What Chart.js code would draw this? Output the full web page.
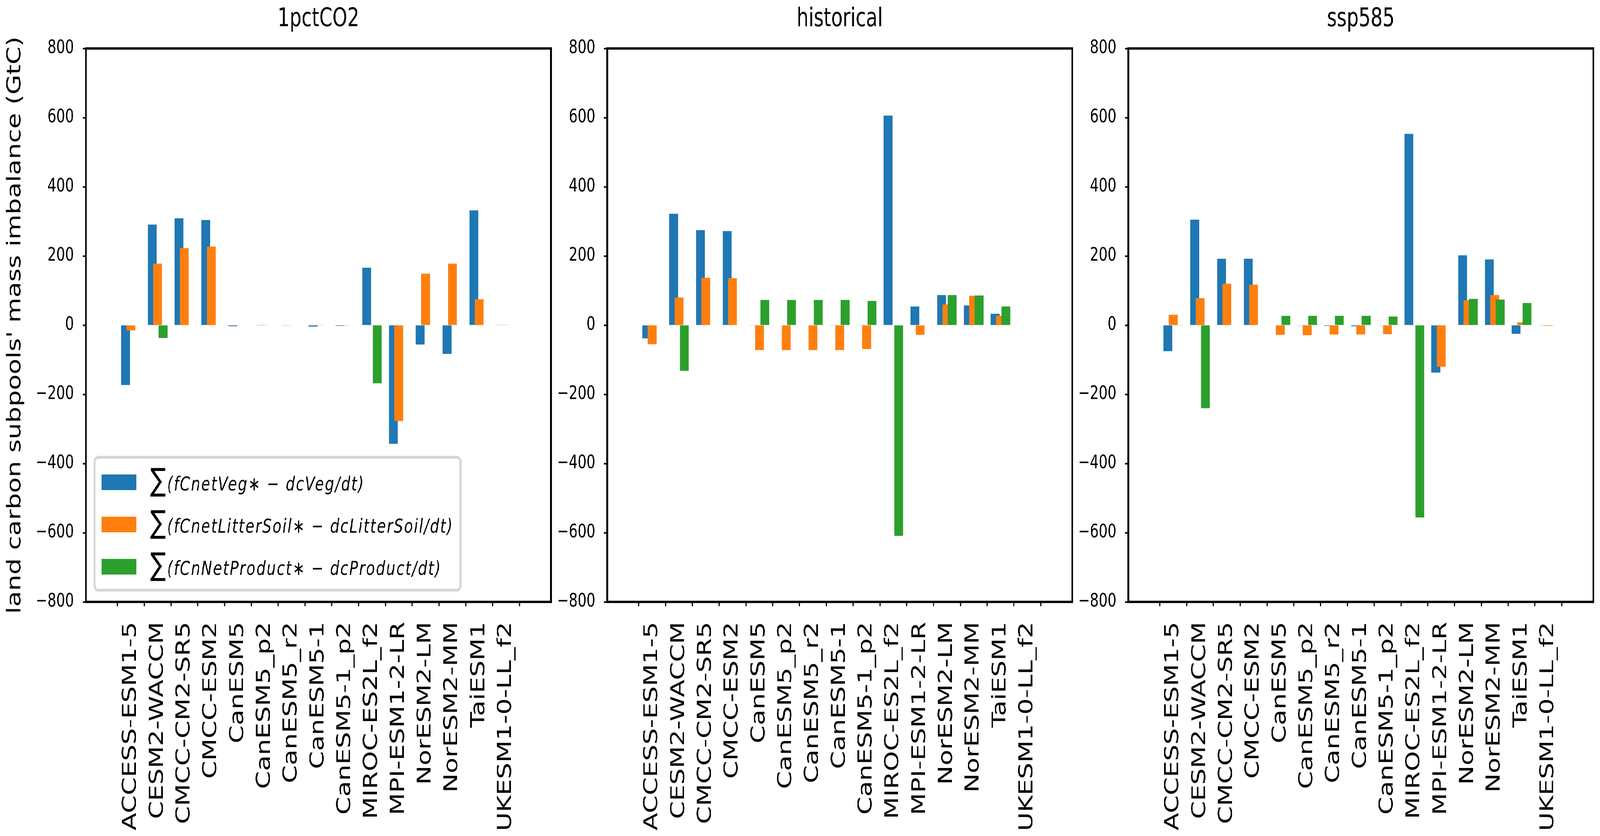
<!DOCTYPE html>
<html>
<head>
<meta charset="utf-8">
<script src="https://cdn.jsdelivr.net/npm/chart.js@4.4.1/dist/chart.umd.min.js"></script>
<style>
  html, body { margin: 0; padding: 0; background: #fff; overflow: hidden; }
  #view { position: relative; overflow: hidden; }
  #wrap { position: absolute; left: 0; top: 0; width: 5515px; height: 2139px; transform-origin: 0 0; }
  canvas { position: absolute; top: 0; }
</style>
</head>
<body>
<div id="view">
  <div id="wrap">
    <canvas id="painel1"></canvas>
    <canvas id="painel2"></canvas>
    <canvas id="painel3"></canvas>
  </div>
</div>
<script>
// Modelos no eixo x
const models = ['ACCESS-ESM1-5', 'CESM2-WACCM', 'CMCC-CM2-SR5', 'CMCC-ESM2', 'CanESM5', 'CanESM5_p2',
    'CanESM5_r2', 'CanESM5-1', 'CanESM5-1_p2', 'MIROC-ES2L_f2', 'MPI-ESM1-2-LR', 'NorESM2-LM',
    'NorESM2-MM', 'TaiESM1', 'UKESM1-0-LL_f2'];
const experiments = ['1pctCO2', 'historical', 'ssp585'];
const seriesLabels = ['∑(fCnetVeg∗ − dcVeg/dt)', '∑(fCnetLitterSoil∗ − dcLitterSoil/dt)', '∑(fCnNetProduct∗ − dcProduct/dt)'];
const yTicks = [-800, -600, -400, -200, 0, 200, 400, 600, 800];
const yTitle = "land carbon subpools' mass imbalance (GtC)";

// 1pctCO2 (GtC)
const vegPct = [-173, 291, 309, 304, -3, -1, -1, -4, -2, 166, -343, -56, -83, 332, 1];
const litterPct = [-15, 178, 223, 227, 0, 1, 0, 1, -1, -1, -277, 149, 178, 75, 1];
const productPct = [0, -37, 0, 0, 0, 0, 0, 0, 0, -168, 0, 0, 0, 0, 0];

// historical (GtC)
const vegHist = [-38, 322, 275, 272, -1, 0, 0, -1, 1, 606, 54, 87, 57, 33, 0];
const litterHist = [-55, 80, 137, 136, -72, -72, -72, -72, -69, 0, -28, 60, 85, 27, 0];
const productHist = [0, -132, 0, 0, 73, 73, 73, 73, 70, -609, 0, 87, 86, 54, 0];

// ssp585 (GtC)
const vegSsp = [-75, 305, 192, 192, 0, -1, -2, -3, -1, 553, -137, 202, 190, -25, -1];
const litterSsp = [30, 78, 120, 117, -28, -29, -27, -27, -26, -1, -120, 72, 87, 8, -2];
const productSsp = [-1, -240, 0, 0, 27, 27, 27, 27, 25, -556, 0, 76, 74, 64, 0];

const seriesColors = ['#1f77b4', '#ff7f0e', '#2ca02c'];
const barOffsets = [-0.2, 0, 0.2]; // deslocamento de cada serie dentro do grupo

// posicao de cada painel na figura (pixels da figura 5515x2139)
const panelLayout = [
    { left: 0, width: 1910, yW: 296, padR: 11 },
    { left: 1900, width: 1810, yW: 193, padR: 14 },
    { left: 3700, width: 1815, yW: 189, padR: 23 }
];

// a janela pode ser menor que a figura: estica a figura para ocupar a janela toda
const W = 5515, H = 2139;
const sx = (window.innerWidth || W) / W;
const sy = (window.innerHeight || H) / H;
const view = document.getElementById('view');
view.style.width = (W * sx) + 'px';
view.style.height = (H * sy) + 'px';
document.getElementById('wrap').style.transform = 'scale(' + sx + ', ' + sy + ')';

Chart.defaults.font.family = '"DejaVu Sans", sans-serif';
Chart.defaults.color = '#000';

// moldura preta em volta da area do grafico
const framePlugin = {
    id: 'frame',
    afterDatasetsDraw(chart) {
        const a = chart.chartArea;
        const ctx = chart.ctx;
        ctx.save();
        ctx.strokeStyle = '#000';
        ctx.lineWidth = 6;
        ctx.strokeRect(a.left, a.top, a.right - a.left, a.bottom - a.top);
        ctx.restore();
    }
};

// legenda dentro do primeiro painel, com o simbolo de soma
const legendPlugin = {
    id: 'mathLegend',
    afterDraw(chart) {
        const { ctx, chartArea } = chart;
        const sets = chart.data.datasets;
        const sumFont = '80px "DejaVu Sans"';
        const textFont = 'italic 50px "DejaVu Sans"';
        const spacing = '3.5px';
        ctx.save();
        ctx.font = sumFont;
        const sumM = ctx.measureText('∑');
        ctx.font = textFont;
        ctx.letterSpacing = spacing;
        let maxW = 0;
        sets.forEach(ds => { maxW = Math.max(maxW, ctx.measureText(ds.label.slice(1)).width); });
        ctx.letterSpacing = '0px';

        const boxH = 340;
        const x0 = chartArea.left + 30;
        const y0 = chartArea.bottom - 30 - boxH;
        const boxW = 192 + sumM.width + 4 + maxW + 24;

        ctx.fillStyle = '#fff';
        ctx.strokeStyle = '#d6d6d6';
        ctx.lineWidth = 7;
        ctx.beginPath();
        ctx.roundRect(x0, y0, boxW, boxH, 12);
        ctx.fill();
        ctx.stroke();

        sets.forEach((ds, i) => {
            const cy = y0 + 64 + i * 108;
            ctx.fillStyle = ds.backgroundColor;
            ctx.fillRect(x0 + 24, cy - 20, 120, 40);
            ctx.fillStyle = '#000';
            ctx.textAlign = 'left';
            ctx.textBaseline = 'alphabetic';
            ctx.font = sumFont;
            ctx.letterSpacing = '0px';
            const asc = sumM.actualBoundingBoxAscent, desc = sumM.actualBoundingBoxDescent;
            ctx.fillText('∑', x0 + 192, cy + (asc - desc) / 2);
            ctx.font = textFont;
            ctx.letterSpacing = spacing;
            ctx.fillText(ds.label.slice(1), x0 + 192 + sumM.width + 4, cy + 21);
        });
        ctx.restore();
    }
};

function buildDatasets(valuesPerSeries) {
    return valuesPerSeries.map((vals, s) => ({
        label: seriesLabels[s],
        data: vals.map((v, i) => ({ x: i + barOffsets[s], y: v })),
        backgroundColor: seriesColors[s],
        borderWidth: 0,
        grouped: false,
        barPercentage: 1.65, // largura 0.33 de uma categoria
        categoryPercentage: 1,
        order: 3 - s
    }));
}

function makePanel(idx, seriesValues) {
    const lay = panelLayout[idx];
    const canvas = document.getElementById('painel' + (idx + 1));
    canvas.width = lay.width;
    canvas.height = H;
    canvas.style.left = lay.left + 'px';
    canvas.style.width = lay.width + 'px';
    canvas.style.height = H + 'px';

    const plugins = [framePlugin];
    if (idx === 0) plugins.push(legendPlugin);

    const tickGrid = {
        display: true,
        drawOnChartArea: false,
        drawTicks: true,
        tickLength: 11,
        tickWidth: 4,
        tickColor: '#000'
    };

    return new Chart(canvas.getContext('2d'), {
        type: 'bar',
        data: { datasets: buildDatasets(seriesValues) },
        plugins: plugins,
        options: {
            responsive: false,
            animation: false,
            devicePixelRatio: 1,
            layout: { padding: { left: 0, right: lay.padR, top: 0, bottom: 0 } },
            plugins: {
                legend: { display: false },
                tooltip: { enabled: false },
                title: {
                    display: true,
                    text: experiments[idx],
                    fullSize: false,
                    color: '#000',
                    font: { size: 65, weight: 'normal' },
                    padding: { top: 11, bottom: 35 }
                }
            },
            scales: {
                x: {
                    type: 'linear',
                    min: -1.1,
                    max: models.length + 0.1,
                    afterBuildTicks: (scale) => { scale.ticks = models.map((m, i) => ({ value: i })); },
                    afterFit: (scale) => { scale.height = 599; },
                    ticks: {
                        autoSkip: false,
                        minRotation: 90,
                        maxRotation: 90,
                        padding: 40,
                        font: { size: 66 },
                        callback: (v) => models[v]
                    },
                    grid: tickGrid,
                    border: { display: false }
                },
                y: {
                    min: yTicks[0],
                    max: yTicks[yTicks.length - 1],
                    afterBuildTicks: (scale) => { scale.ticks = yTicks.map(v => ({ value: v })); },
                    afterFit: (scale) => { scale.width = lay.yW; },
                    ticks: {
                        padding: 30,
                        font: { size: 48 },
                        callback: (v) => (v < 0 ? '\u2212' + (-v) : String(v))
                    },
                    grid: tickGrid,
                    border: { display: false },
                    title: {
                        display: idx === 0,
                        text: yTitle,
                        font: { size: 66 },
                        padding: { top: 13, bottom: 0 }
                    }
                }
            }
        }
    });
}

makePanel(0, [vegPct, litterPct, productPct]);
makePanel(1, [vegHist, litterHist, productHist]);
makePanel(2, [vegSsp, litterSsp, productSsp]);
</script>
</body>
</html>
